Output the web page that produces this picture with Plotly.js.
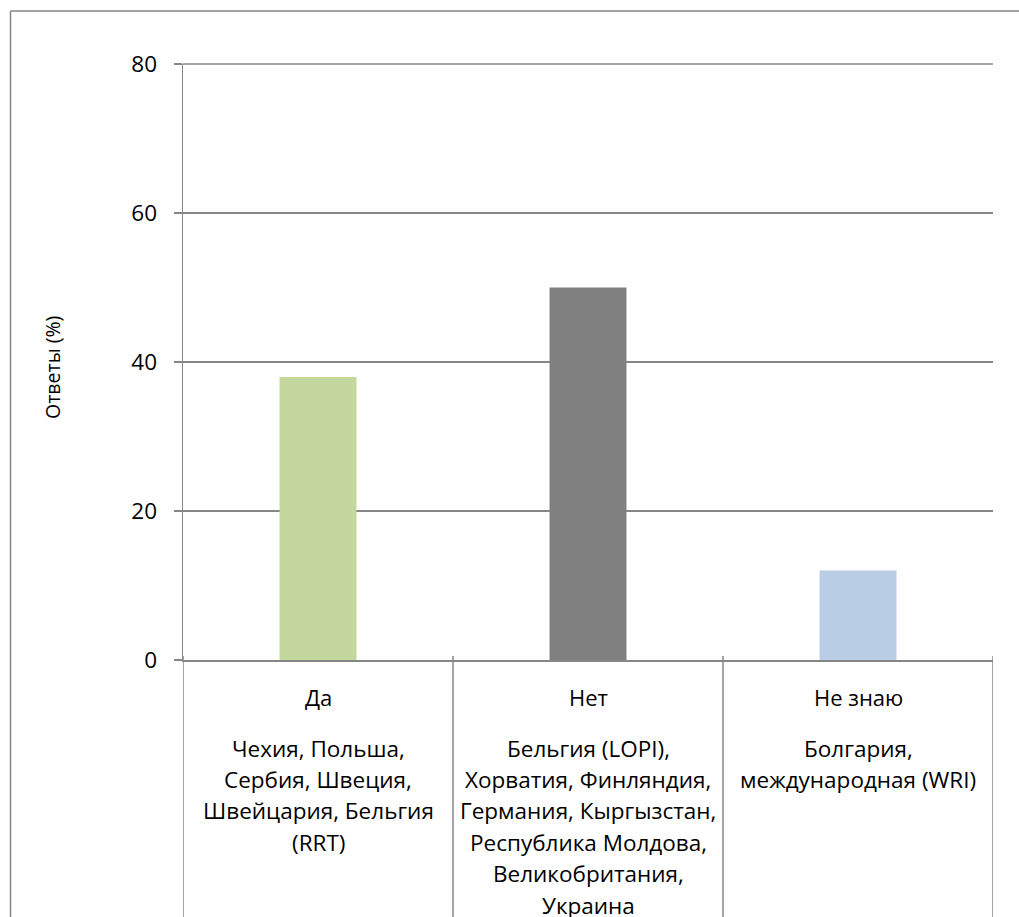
<!DOCTYPE html>
<html>
<head>
<meta charset="utf-8">
<script src="https://cdn.plot.ly/plotly-3.0.1.min.js"></script>
<style>html,body{margin:0;padding:0;background:#fff;}#chart{width:1019px;height:917px;}</style>
</head>
<body>
<div id="chart"></div>
<script>
// Data
const categories = ["Да", "Нет", "Не знаю"];
const values = [38, 50, 12];
const barColors = ["#C3D69B", "#808080", "#B9CDE5"];
const countryLines = [
  ["Чехия, Польша,", "Сербия, Швеция,", "Швейцария, Бельгия", "(RRT)"],
  ["Бельгия (LOPI),", "Хорватия, Финляндия,", "Германия, Кыргызстан,", "Республика Молдова,", "Великобритания,", "Украина"],
  ["Болгария,", "международная (WRI)"]
];
const yTicks = [0, 20, 40, 60, 80];
const yTitle = "Ответы (%)";

// Layout geometry (pixels)
const W = 1019, H = 917;
const L = 183, R = 993, T = 64, B = 660;
const pw = R - L, ph = B - T;
const px = x => (x - L) / pw;
const py = y => (B - y) / ph;
const lineCol = "#868686";
const font = "Open Sans, sans-serif";

const annotations = [];
categories.forEach((c, i) => {
  annotations.push({x: i, xref: "x", y: py(697), yref: "paper", text: c, showarrow: false,
    xanchor: "center", yanchor: "middle", font: {family: font, size: 22, color: "#000"}});
  countryLines[i].forEach((t, j) => {
    annotations.push({x: i, xref: "x", y: py(748 + 31.4 * j), yref: "paper", text: t, showarrow: false,
      xanchor: "center", yanchor: "middle", font: {family: font, size: 22.5, color: "#000"}});
  });
});
annotations.push({x: px(53), xref: "paper", y: py(368), yref: "paper", text: yTitle, showarrow: false,
  textangle: -90, xanchor: "center", yanchor: "middle", font: {family: font, size: 19.5, color: "#000"}});

const shapes = [];
// top gridline at the axis maximum (plot-area top edge)
shapes.push({type: "line", xref: "paper", yref: "paper", x0: 0, x1: 1, y0: 1, y1: 1,
  line: {color: lineCol, width: 1.5}});
// category separator lines below axis
[-0.5, 0.5, 1.5, 2.5].forEach(b => {
  shapes.push({type: "line", xref: "x", yref: "paper", x0: b, x1: b, y0: py(656), y1: py(H + 5),
    line: {color: lineCol, width: 1.5}});
});
// outer chart border
shapes.push({type: "line", xref: "paper", yref: "paper", x0: px(10.5), x1: px(10.5), y0: py(11), y1: py(H + 5), line: {color: lineCol, width: 1.5}});
shapes.push({type: "line", xref: "paper", yref: "paper", x0: px(10.5), x1: px(W + 5), y0: py(11), y1: py(11), line: {color: lineCol, width: 1.5}});

const trace = {
  type: "bar", x: categories.map((c, i) => i), y: values,
  marker: {color: barColors, line: {width: 0}}, hoverinfo: "none"
};

const layout = {
  width: W, height: H,
  margin: {l: L, r: W - R, t: T, b: H - B, pad: 0},
  paper_bgcolor: "#fff", plot_bgcolor: "#fff",
  showlegend: false, bargap: 0.715,
  xaxis: {range: [-0.5, 2.5], showticklabels: false, showgrid: false, zeroline: false,
    showline: true, linecolor: lineCol, linewidth: 1.5, ticks: "", fixedrange: true},
  yaxis: {range: [0, 80], tickvals: yTicks, ticktext: yTicks.map(String), showgrid: true, gridcolor: lineCol, gridwidth: 1.5,
    zeroline: false, showline: true, linecolor: lineCol, linewidth: 1.5, ticks: "outside", ticklen: 8,
    tickcolor: lineCol, tickwidth: 1.5, ticklabelstandoff: 12,
    tickfont: {family: font, size: 22.5, color: "#000"}, fixedrange: true},
  annotations: annotations, shapes: shapes
};

Plotly.newPlot("chart", [trace], layout, {displayModeBar: false, staticPlot: true});
</script>
</body>
</html>
